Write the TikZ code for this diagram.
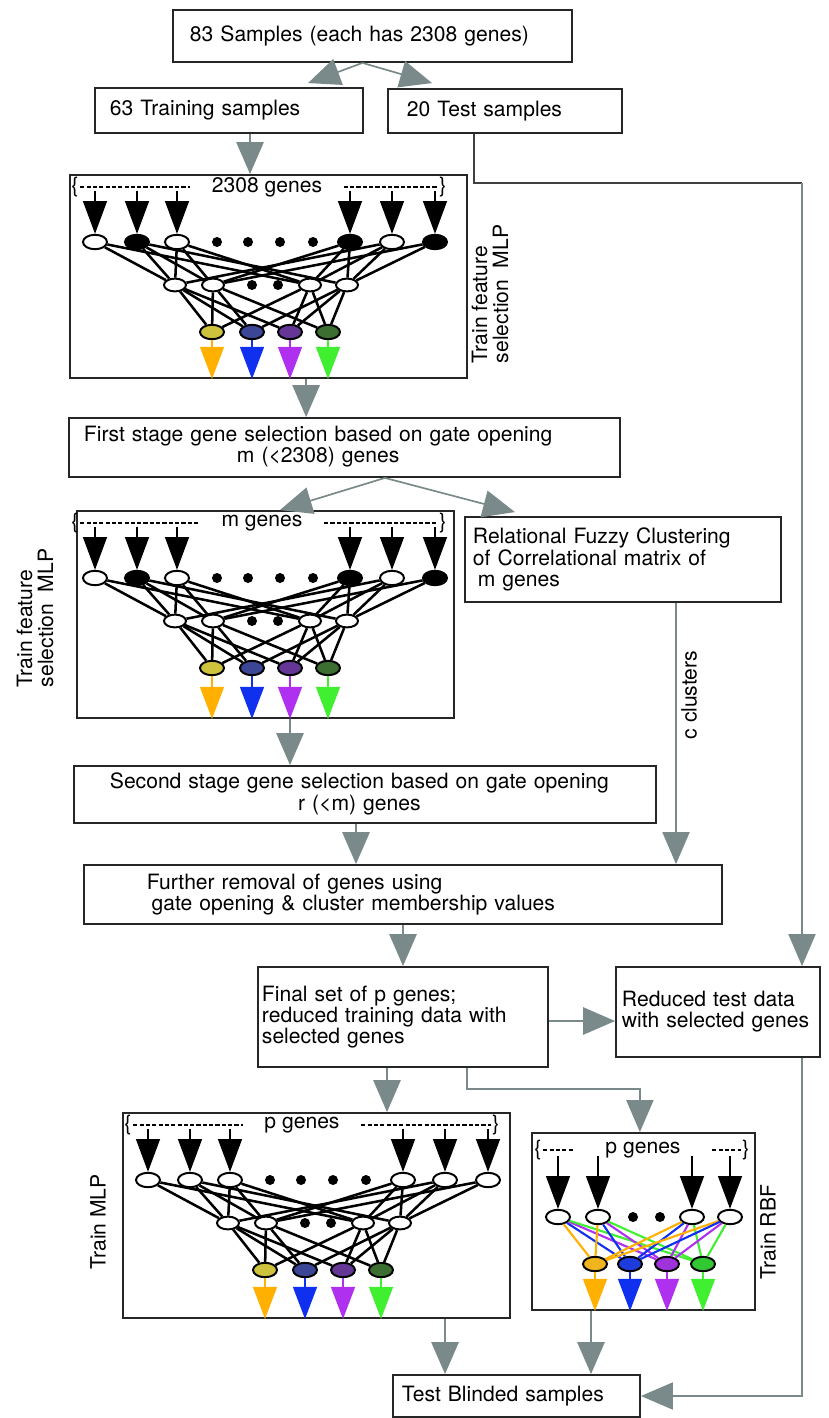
\documentclass[tikz,border=0pt]{standalone}
\usepackage{fontspec}
\setmainfont{TeX Gyre Heros}
\usepackage{tikz}
\usetikzlibrary{positioning}
\usetikzlibrary{shapes.geometric}
\usetikzlibrary{arrows.meta}
\usetikzlibrary{calc}
\usepackage{xcolor}

\definecolor{flowgray}{RGB}{122,138,138}
\definecolor{oyel}{RGB}{255,176,0}
\definecolor{oblu}{RGB}{16,48,240}
\definecolor{opur}{RGB}{176,48,240}
\definecolor{ogrn}{RGB}{64,240,48}
\definecolor{dyel}{RGB}{205,195,60}
\definecolor{dblu}{RGB}{60,70,150}
\definecolor{dpur}{RGB}{100,55,150}
\definecolor{dgrn}{RGB}{60,110,50}
\definecolor{ryel}{RGB}{240,180,30}
\definecolor{rblu}{RGB}{30,60,220}
\definecolor{rpur}{RGB}{160,50,220}
\definecolor{rgrn}{RGB}{50,200,50}

% one feature selection / classifier net inside panel #1
\newcommand{\mlpnet}[5]{%
  \begin{scope}[shift={#2}]
    \node[gene] (#1-bl) at (5,12) {\{};
    \node[gene] (#1-br) at (373,12) {\}};
    \node[gene] (#1-lab) at (#4,12) {#3};
    \draw[dashln, shorten >=0.5cm] (#1-bl.east) -- (#1-lab.west);
    \draw[dashln, shorten <=0.5cm] (#1-lab.east) -- (#1-br.west);
    \foreach \x/\f [count=\i] in {#5}
      \node[innode, fill=\f] (#1-i\i) at (\x,67) {};
    \foreach \x [count=\i] in {147,178,210,243}
      \node[dot] (#1-d\i) at (\x,67) {};
    \foreach \x [count=\i] in {105,143,240,277}
      \node[hidnode] (#1-h\i) at (\x,110) {};
    \foreach \x [count=\i] in {182,208}
      \node[dot] (#1-e\i) at (\x,110) {};
    \foreach \x/\col [count=\i] in {142/dyel,182/dblu,220/dpur,258/dgrn}
      \node[innode, fill=\col] (#1-o\i) at (\x,157) {};
    \foreach \i in {1,...,6}
      \draw[inarrow] ([yshift=-0.1cm]#1-i\i |- #1-bl) -- (#1-i\i);
    \foreach \a/\b in {1/1,1/3,2/1,2/2,2/4,3/1,3/2,3/3,4/2,4/3,4/4,5/1,5/3,5/4,6/2,6/4}
      \draw[link] (#1-i\a) -- (#1-h\b);
    \foreach \a/\b in {1/1,1/2,1/3,2/1,2/2,2/4,3/1,3/3,3/4,4/2,4/3,4/4}
      \draw[link] (#1-h\a) -- (#1-o\b);
    \foreach \col [count=\i] in {oyel,oblu,opur,ogrn}
      \draw[outarrow, draw=\col] (#1-o\i) -- (#1-o\i |- #1.south);
  \end{scope}}

\begin{document}
\begin{tikzpicture}[
  x=0.025cm, y=-0.025cm,
  font=\fontsize{15}{15}\selectfont,
  flowbox/.style={draw=black!85, line width=1.3pt, fill=white, align=left},
  netpanel/.style={draw=black!85, line width=1.3pt, inner sep=0pt},
  flow/.style={draw=flowgray, line width=1.6pt, -{Triangle[length=0.8cm, width=0.68cm]}},
  thinflow/.style={flow, line width=0.9pt},
  testln/.style={draw=black!75, line width=1.3pt},
  innode/.style={ellipse, draw, line width=1.4pt, minimum width=0.6cm, minimum height=0.36cm, inner sep=0pt},
  hidnode/.style={innode, fill=white, minimum width=0.55cm, minimum height=0.32cm},
  dot/.style={circle, fill=black, inner sep=0pt, minimum size=0.25cm},
  link/.style={line width=1.8pt},
  rlink/.style={line width=1.5pt},
  inarrow/.style={line width=1pt, -{Triangle[length=0.82cm, width=0.6cm]}},
  outarrow/.style={line width=0.8pt, -{Triangle[length=0.8cm, width=0.6cm]}},
  dashln/.style={line width=1.1pt, dash pattern=on 3pt off 1.5pt},
  gene/.style={inner sep=1pt},
  sidelabel/.style={rotate=90, align=left}
]
\useasboundingbox (0,0) rectangle (828,1418);

% Boxes
\node[flowbox, minimum height=1.3cm, inner xsep=0.425cm, text width=9.125cm] (all) at (372.5,36) {83 Samples (each has 2308 genes)};
\node[flowbox, minimum height=1.125cm, inner xsep=0.375cm, text width=5.95cm] (train) at (229,110.5) {63 Training samples};
\node[flowbox, minimum height=1.1cm, inner xsep=0.475cm, text width=4.9cm] (test) at (505,111) {20 Test samples};
\node[flowbox, minimum height=1.475cm, inner xsep=0.375cm, text width=13.025cm] (stage1) at (344.5,447.5)
  {\begin{tabular}{@{}c@{}}First stage gene selection based on gate opening\\ m (<2308) genes\end{tabular}};
\node[flowbox, minimum height=2.125cm, inner xsep=0.2cm, text width=7.5cm] (rfc) at (623,559.5)
  {Relational Fuzzy Clustering\\of Correlational matrix of\\\hspace*{0.12cm}m genes};
\node[flowbox, minimum height=1.425cm, inner xsep=0.9cm, text width=12.75cm] (stage2) at (365,794.5)
  {\begin{tabular}{@{}c@{}}Second stage gene selection based on gate opening\\ r (<m) genes\end{tabular}};
\node[flowbox, minimum height=1.475cm, inner xsep=1.575cm, text width=12.8cm] (further) at (403,894.5)
  {Further removal of genes using\\\hspace*{0.12cm}gate opening \& cluster membership values};
\node[flowbox, minimum height=2.5cm, inner xsep=0.1cm, text width=7.05cm] (final) at (403,1017)
  {Final set of p genes;\\reduced training data with\\selected genes};
\node[flowbox, minimum height=2.25cm, inner xsep=0.15cm, text width=4.8cm] (reduced) at (718,1012)
  {Reduced test data\\with selected genes};
\node[flowbox, minimum height=1.05cm, inner xsep=0.225cm, text width=5.725cm] (blind) at (516.5,1396) {Test Blinded samples};

% Panels
\node[netpanel, minimum width=9.925cm, minimum height=5.075cm] (p1) at (268.5,276.5) {};
\node[netpanel, minimum width=9.425cm, minimum height=5.175cm] (p2) at (265.5,614.5) {};
\node[netpanel, minimum width=9.675cm, minimum height=5.125cm] (p3) at (316.5,1215.5) {};
\node[netpanel, minimum width=5.575cm, minimum height=4.425cm] (rbf) at (643.5,1221.5) {};
\node[sidelabel, anchor=west] (p1lab) at (490,368) {Train feature\\selection\ \ MLP};
\node[sidelabel, anchor=west] (p2lab) at (35,692) {Train feature\\selection\ \ MLP};
\node[sidelabel] (p3lab) at (98,1222) {Train MLP};
\node[sidelabel] (rbflab) at (768,1232) {Train RBF};

% MLP nets
\mlpnet{p1}{(70,175)}{2308 genes}{197}{25/white,67/black,107/white,280/black,322/white,365/black}
\mlpnet{p2}{(70,511)}{m genes}{192}{25/white,67/black,107/white,280/black,322/white,365/black}
\mlpnet{p3}{(123,1113)}{p genes}{179}{25/white,67/white,107/white,280/white,322/white,365/white}

% RBF net
\node[gene] (rbl) at (538,1150) {\{};
\node[gene] (rbr) at (746,1150) {\}};
\node[gene] (rlab) at (643,1150) {p genes};
\draw[dashln, shorten >=0.75cm] (rbl.east) -- (rlab.west);
\draw[dashln, shorten <=0.75cm] (rlab.east) -- (rbr.west);
\foreach \x [count=\i] in {558,598,692,730}
  \node[innode, fill=white] (ri\i) at (\x,1217) {};
\foreach \x [count=\i] in {633,660}
  \node[dot] (rd\i) at (\x,1217) {};
\foreach \x/\col [count=\i] in {595/ryel,630/rblu,667/rpur,703/rgrn}
  \node[innode, fill=\col] (ro\i) at (\x,1264) {};
\foreach \i in {1,...,4}
  \draw[inarrow] ([yshift=-0.15cm]ri\i |- rbl) -- (ri\i);
\foreach \a in {1,...,4}
  \foreach \b/\col in {1/oyel,2/oblu,3/opur,4/ogrn}
    \draw[rlink, draw=\col] (ri\a) -- (ro\b);
\foreach \col [count=\i] in {oyel,oblu,opur,ogrn}
  \draw[outarrow, draw=\col] (ro\i) -- (ro\i |- rbf.south);

% Flow
\coordinate (tturn) at (802,183);
\draw[flow, line width=1.2pt] ([xshift=-0.25cm]all.south) -- ([shift={(1.975cm,0.1cm)}]train.north);
\draw[flow, line width=1.2pt] ([xshift=-0.25cm]all.south) -- ([shift={(-1.825cm,0.125cm)}]test.north);
\draw[flow] ([xshift=0.525cm]train.south) -- ([xshift=0.525cm]train.south |- p1.north);
\draw[testln] ([xshift=-0.775cm]test.south) |- (tturn);
\draw[thinflow] (tturn) -- (tturn |- reduced.north);
\draw[flow] ([xshift=0.94cm]p1.south) -- ([xshift=0.94cm]p1.south |- stage1.north);
\draw[flow, line width=1.2pt] ([xshift=1.01cm]stage1.south) -- ([xshift=0.36cm]p2.north);
\draw[flow, line width=1.2pt] ([xshift=1.01cm]stage1.south) -- ([shift={(-2.7cm,0.1cm)}]rfc.north);
\draw[thinflow] ([xshift=1.325cm]rfc.south) -- ([xshift=1.325cm]rfc.south |- further.north);
\node[sidelabel] (clab) at (689,695) {c clusters};
\draw[flow] ([xshift=0.6125cm]p2.south) -- ([xshift=0.6125cm]p2.south |- stage2.north);
\draw[flow] ([xshift=-0.225cm]stage2.south) -- ([xshift=-0.225cm]stage2.south |- further.north);
\draw[flow] (further.south) -- (final.north);
\draw[flow] ([yshift=-0.1cm]final.east) -- ([yshift=-0.1cm]final.east -| reduced.west);
\draw[flow] ([xshift=-0.4cm]final.south) -- ([xshift=-0.4cm]final.south |- p3.north);
\draw[thinflow] ([xshift=1.6cm]final.south) -- ++(0,-0.525cm) -| ([xshift=-0.09cm]rbf.north);
\draw[flow] ([xshift=3.2125cm]p3.south) -- ([xshift=3.2125cm]p3.south |- blind.north);
\draw[flow] ([xshift=-1.3125cm]rbf.south) -- ([xshift=-1.3125cm]rbf.south |- blind.north);
\draw[thinflow] ([xshift=2.1cm]reduced.south) |- (blind.east);

\end{tikzpicture}
\end{document}
